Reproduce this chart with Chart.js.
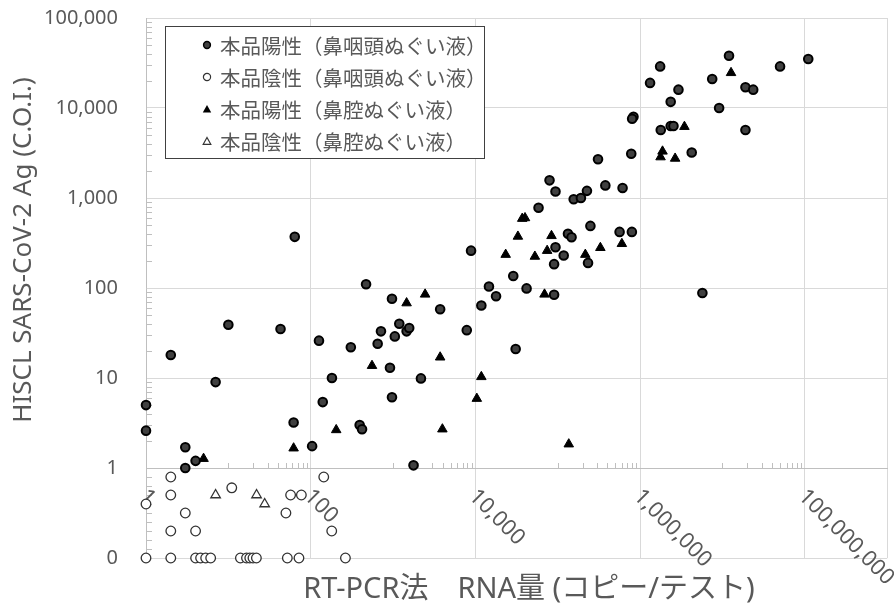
<!DOCTYPE html>
<html lang="ja">
<head>
<meta charset="utf-8">
<title>HISCL SARS-CoV-2 Ag / RT-PCR</title>
<script src="https://cdn.jsdelivr.net/npm/chart.js@4.4.1/dist/chart.umd.min.js"></script>
<style>
  html, body { margin: 0; padding: 0; background: #fff; }
  #wrap { position: relative; width: 894px; height: 612px; }
  #legend {
    position: absolute; left: 165px; top: 26px; width: 320px; height: 133px;
    box-sizing: border-box; border: 1px solid #404040; background: #fff;
    padding-top: 2px;
    font-family: 'Noto Sans CJK JP', 'Noto Sans', sans-serif; font-size: 20.5px; color: #595959;
  }
  #legend .row { display: flex; align-items: center; height: 32px; }
  #legend svg { margin-left: 36px; width: 10px; height: 10px; flex: none; }
  #legend span { margin-left: 8px; white-space: nowrap; }
</style>
</head>
<body>
<div id="wrap">
  <canvas id="scatterChart"></canvas>
  <div id="legend"></div>
</div>
<script>
// ---- data ----
const seriesNames = [
    '本品陽性（鼻咽頭ぬぐい液）',
    '本品陰性（鼻咽頭ぬぐい液）',
    '本品陽性（鼻腔ぬぐい液）',
    '本品陰性（鼻腔ぬぐい液）'
];

// 本品陽性（鼻咽頭ぬぐい液）
const posNpX = [1, 1, 2, 3, 4, 3, 7, 10, 43, 64, 62, 104, 126, 140, 181, 307, 393, 420, 470, 650,
    713, 917, 970, 970, 1050, 1190, 1460, 1570, 1770, 2180, 3730, 7850, 8850, 11800, 14600, 17800,
    28800, 30800, 41800, 58400, 79400, 93800, 90200, 93800, 90200, 118000, 133000, 147000, 156000,
    191000, 226000, 233000, 249000, 308000, 378000, 563000, 612000, 794000, 780000, 830000, 800000,
    1.32e6, 1.75e6, 1.78e6, 2.35e6, 2.35e6, 2.54e6, 2.92e6, 4.23e6, 5.7e6, 7.5e6, 9.1e6, 1.2e7,
    1.9e7, 2.36e7, 1.9e7, 5e7, 1.1e8];
const posNpY = [5, 2.6, 18, 1.7, 1.2, 1.0, 9, 39, 35, 370, 3.2, 1.75, 26, 5.4, 10, 22, 3.0, 2.7, 110, 24,
    33, 13, 76, 6.1, 29, 40, 33, 36, 1.07, 9.9, 58, 34, 260, 64, 104, 81,
    136, 21, 99, 780, 1570, 1180, 184, 284, 84, 230, 400, 367, 970,
    1000, 1200, 190, 490, 2700, 1380, 420, 1290, 420, 3100, 8000, 7600,
    19000, 29000, 5700, 11700, 6300, 6300, 16000, 3200, 88, 21000, 10000, 38000,
    17000, 16000, 5700, 29000, 35000];

// 本品陰性（鼻咽頭ぬぐい液）
const negNpX = [1, 1, 2, 2, 2, 2, 3, 4, 4, 4.6, 5.3, 6.1, 11, 14, 16.6, 18.2, 19.9, 21.9, 50, 57, 77, 52, 72, 144, 180, 264];
const negNpY = [0, 0.6, 0.9, 0.7, 0.3, 0, 0.5, 0.3, 0, 0, 0, 0, 0.78, 0, 0, 0, 0, 0, 0.5, 0.7, 0.7, 0, 0, 0.9, 0.3, 0];

// 本品陽性（鼻腔ぬぐい液）
const posNcX = [5, 62, 204, 555, 1460, 2450, 3730, 3970, 10400, 11800, 23300, 32800, 37000, 40000,
    52700, 69000, 74300, 83900, 136000, 216000, 329000, 600000, 1.77e6, 1.87e6, 2.66e6, 3.45e6, 1.27e7];
const posNcY = [1.27, 1.66, 2.65, 13.7, 68, 85, 17, 2.7, 5.9, 10.3, 235, 374, 590, 600,
    224, 85, 260, 380, 1.84, 235, 280, 310, 2850, 3300, 2750, 6200, 24600];

// 本品陰性（鼻腔ぬぐい液）
const negNcX = [7, 22, 27.6];
const negNcY = [0.7, 0.7, 0.6];

// axes
const xTickValues = [1, 100, 10000, 1000000, 100000000];
const xTickLabels = ['1', '100', '10,000', '1,000,000', '100,000,000'];
const xGridValues = [1, 100, 10000, 1000000, 100000000, 1000000000];
const yTickValues = [0, 1, 10, 100, 1000, 10000, 100000];
const yTickLabels = ['0', '1', '10', '100', '1,000', '10,000', '100,000'];
const xTitle = 'RT-PCR法　RNA量 (コピー/テスト)';
const yTitle = 'HISCL SARS-CoV-2 Ag (C.O.I.)';

// minor tick marks (Excel style)
const digits = [1, 2, 3, 4, 5, 6, 7, 8, 9];
const xMinorTicks = [10, 1000, 100000, 10000000].flatMap(d => digits.map(k => k * d));
const yMinorTicks = [0.1, 0.2, 0.3, 0.4, 0.5, 0.6, 0.7, 0.8, 0.9]
    .concat([1, 10, 100, 1000, 10000].flatMap(d => digits.slice(1).map(k => k * d)));

const FONT = "'Noto Sans', 'Noto Sans CJK JP', sans-serif";
const TEXT = '#595959';

const toPoints = (xs, ys) => xs.map((x, i) => ({ x: x, y: ys[i] }));

// y axis: linear 0..1 in the first slot, log10 from 1 upward
class SplitLogScale extends Chart.Scale {
    determineDataLimits() {
        this.min = this.options.min;
        this.max = this.options.max;
    }
    buildTicks() {
        return yTickValues.map(v => ({ value: v }));
    }
    getLabelForValue(v) {
        return String(v);
    }
    _slot(v) {
        return v >= 1 ? 1 + Math.log10(v) : Math.max(v, 0);
    }
    getPixelForValue(v) {
        return this.getPixelForDecimal(this._slot(v) / this._slot(this.max));
    }
    getValueForPixel(p) {
        const t = this.getDecimalForPixel(p) * this._slot(this.max);
        return t >= 1 ? Math.pow(10, t - 1) : t;
    }
}
SplitLogScale.id = 'splitlog';
SplitLogScale.defaults = {};
Chart.register(SplitLogScale);

const axisDecor = {
    id: 'axisDecor',
    beforeDatasetsDraw(chart) {
        const { ctx, chartArea, scales: { x, y } } = chart;
        const y1 = y.getPixelForValue(1);
        ctx.save();
        ctx.strokeStyle = '#bfbfbf';
        ctx.lineWidth = 1;
        ctx.beginPath();
        xMinorTicks.forEach(v => {
            const px = Math.round(x.getPixelForValue(v)) + 0.5;
            ctx.moveTo(px, y1);
            ctx.lineTo(px, y1 - 5);
        });
        yMinorTicks.forEach(v => {
            const py = Math.round(y.getPixelForValue(v)) + 0.5;
            ctx.moveTo(chartArea.left, py);
            ctx.lineTo(chartArea.left + 6, py);
        });
        ctx.stroke();

        // rotated x labels hanging below the y = 1 line
        ctx.fillStyle = TEXT;
        ctx.font = '22px ' + FONT;
        ctx.textAlign = 'left';
        ctx.textBaseline = 'middle';
        xTickValues.forEach((v, i) => {
            ctx.save();
            ctx.translate(x.getPixelForValue(v) - 3, y1 + 25);
            ctx.rotate(Math.PI / 4);
            ctx.fillText(xTickLabels[i], 0, 0);
            ctx.restore();
        });
        ctx.restore();
    },
    afterDraw(chart) {
        const ctx = chart.ctx;
        ctx.save();
        ctx.fillStyle = TEXT;
        ctx.textAlign = 'center';
        ctx.font = '29px ' + FONT;
        ctx.textBaseline = 'alphabetic';
        ctx.fillText(xTitle, 529, 598);
        ctx.font = '26px ' + FONT;
        ctx.textBaseline = 'middle';
        ctx.translate(24, 250);
        ctx.rotate(-Math.PI / 2);
        ctx.fillText(yTitle, 0, 0);
        ctx.restore();
    }
};

const ctx = document.getElementById('scatterChart');

new Chart(ctx, {
    type: 'scatter',
    data: {
        datasets: [
            {
                label: seriesNames[0],
                data: toPoints(posNpX, posNpY),
                pointStyle: 'circle',
                pointRadius: 4.3,
                backgroundColor: '#404040',
                borderColor: '#000000',
                borderWidth: 2
            },
            {
                label: seriesNames[1],
                data: toPoints(negNpX, negNpY),
                pointStyle: 'circle',
                pointRadius: 4.8,
                backgroundColor: '#ffffff',
                borderColor: '#333333',
                borderWidth: 1.3
            },
            {
                label: seriesNames[2],
                data: toPoints(posNcX, posNcY),
                pointStyle: 'triangle',
                pointRadius: 5.5,
                backgroundColor: '#000000',
                borderColor: '#000000',
                borderWidth: 1
            },
            {
                label: seriesNames[3],
                data: toPoints(negNcX, negNcY),
                pointStyle: 'triangle',
                pointRadius: 5.5,
                backgroundColor: '#ffffff',
                borderColor: '#333333',
                borderWidth: 1.3
            }
        ]
    },
    options: {
        responsive: true,
        maintainAspectRatio: false,
        animation: false,
        clip: false,
        layout: { padding: { top: 18, right: 6, bottom: 54, left: 0 } },
        plugins: {
            legend: { display: false },
            tooltip: { enabled: false }
        },
        scales: {
            x: {
                type: 'logarithmic',
                min: 1,
                max: 1e9,
                position: { y: 1 },
                afterBuildTicks: s => { s.ticks = xGridValues.map(v => ({ value: v })); },
                ticks: { display: false },
                grid: { color: '#d9d9d9', drawTicks: false },
                border: { color: '#bfbfbf' }
            },
            y: {
                type: 'splitlog',
                min: 0,
                max: 1e5,
                position: 'left',
                grid: {
                    color: c => (c.tick && c.tick.value === 1 ? '#bfbfbf' : '#d9d9d9'),
                    drawTicks: false
                },
                border: { color: '#bfbfbf' },
                ticks: {
                    padding: 28,
                    color: TEXT,
                    font: { family: FONT, size: 20 },
                    callback: v => yTickLabels[yTickValues.indexOf(v)]
                },
                afterFit: s => {
                    s.width = 146;
                    s.paddingTop = 12;
                    s.paddingBottom = 12;
                }
            }
        }
    },
    plugins: [axisDecor]
});

// legend box drawn as html, one row per series
const markers = [
    '<circle cx="5" cy="5" r="3.4" fill="#404040" stroke="#000" stroke-width="1.5"/>',
    '<circle cx="5" cy="5" r="3.6" fill="#fff" stroke="#333" stroke-width="1.2"/>',
    '<polygon points="5,1 9.2,8.5 0.8,8.5" fill="#000"/>',
    '<polygon points="5,1.5 8.8,8.3 1.2,8.3" fill="#fff" stroke="#333" stroke-width="1.2"/>'
];
const legendEl = document.getElementById('legend');
seriesNames.forEach((name, i) => {
    const row = document.createElement('div');
    row.className = 'row';
    row.innerHTML = '<svg viewBox="0 0 10 10">' + markers[i] + '</svg><span>' + name + '</span>';
    legendEl.appendChild(row);
});
</script>
</body>
</html>
